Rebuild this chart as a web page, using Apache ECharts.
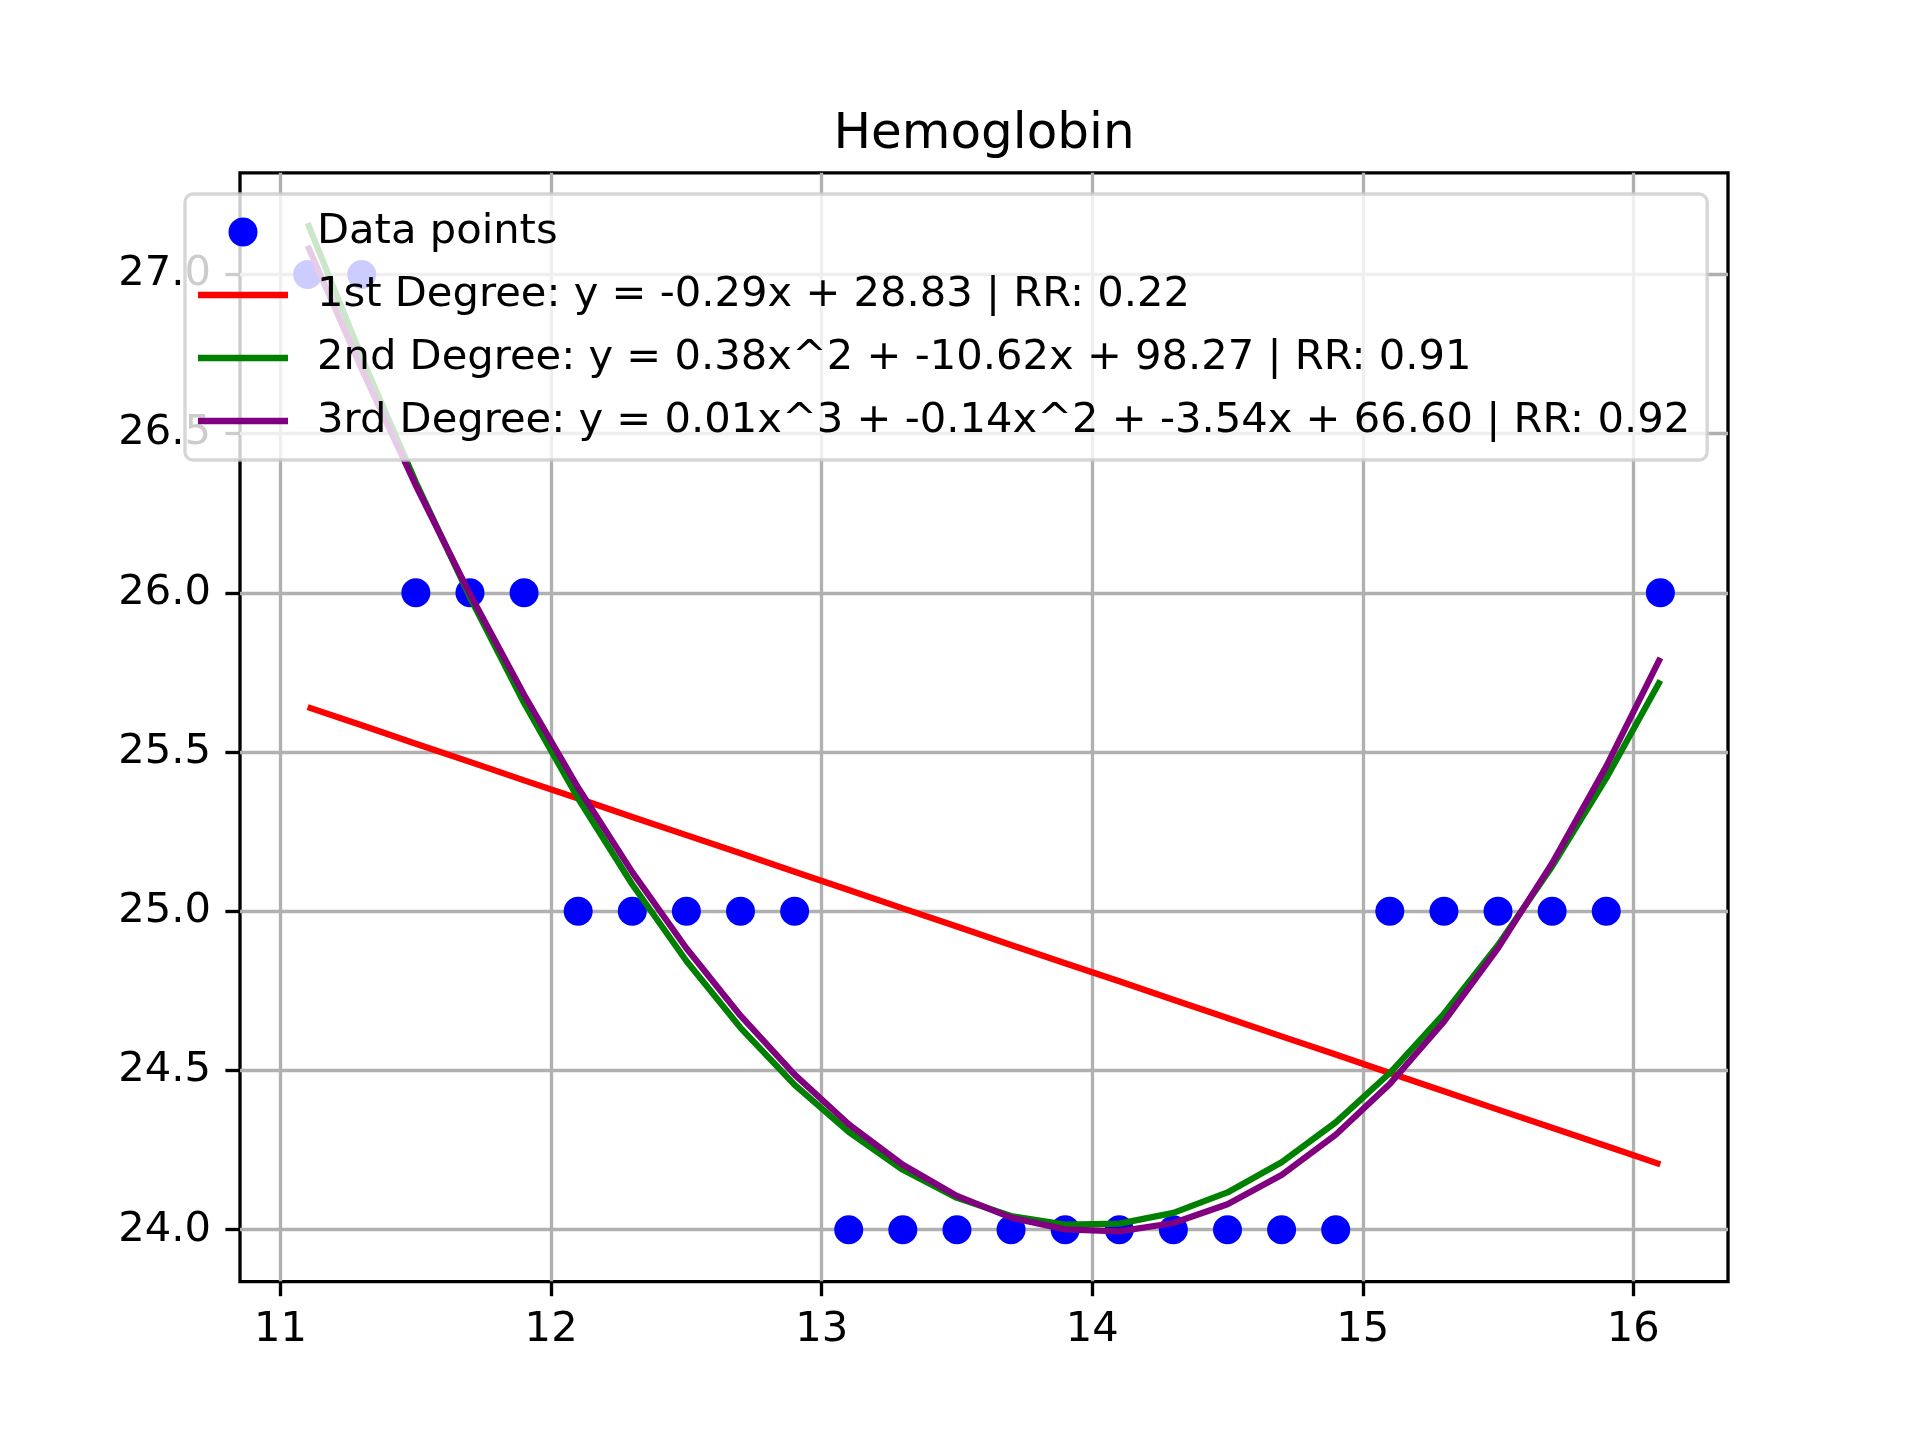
<!DOCTYPE html>
<html>
<head>
<meta charset="utf-8">
<script src="https://cdn.jsdelivr.net/npm/echarts@6/dist/echarts.min.js"></script>
<style>html,body{margin:0;padding:0;background:#fff;}#c{width:1920px;height:1440px;}</style>
</head>
<body>
<div id="c"></div>
<script>
const titleText = 'Hemoglobin';
const xValues = [11.1, 11.3, 11.5, 11.7, 11.9, 12.1, 12.3, 12.5, 12.7, 12.9, 13.1, 13.3, 13.5, 13.7, 13.9, 14.1, 14.3, 14.5, 14.7, 14.9, 15.1, 15.3, 15.5, 15.7, 15.9, 16.1];
const yPoints = [27, 27, 26, 26, 26, 25, 25, 25, 25, 25, 24, 24, 24, 24, 24, 24, 24, 24, 24, 24, 25, 25, 25, 25, 25, 26];
const fit1 = [25.641, 25.584, 25.526, 25.469, 25.411, 25.354, 25.296, 25.239, 25.182, 25.124, 25.067, 25.009, 24.952, 24.894, 24.837, 24.780, 24.722, 24.665, 24.607, 24.550, 24.492, 24.435, 24.377, 24.320, 24.263, 24.205];
const fit2 = [27.161, 26.739, 26.347, 25.986, 25.654, 25.354, 25.084, 24.844, 24.634, 24.455, 24.307, 24.188, 24.100, 24.043, 24.016, 24.019, 24.053, 24.117, 24.212, 24.337, 24.492, 24.678, 24.894, 25.141, 25.418, 25.725];
const fit3 = [27.090, 26.702, 26.337, 25.996, 25.680, 25.388, 25.123, 24.884, 24.672, 24.487, 24.331, 24.204, 24.106, 24.038, 24.001, 23.995, 24.021, 24.080, 24.172, 24.298, 24.458, 24.653, 24.884, 25.151, 25.455, 25.796];
const seriesNames = [
  'Data points',
  '1st Degree: y = -0.29x + 28.83 | RR: 0.22',
  '2nd Degree: y = 0.38x^2 + -10.62x + 98.27 | RR: 0.91',
  '3rd Degree: y = 0.01x^3 + -0.14x^2 + -3.54x + 66.60 | RR: 0.92'
];
const xTicks = [11, 12, 13, 14, 15, 16];
const yTicks = [24, 24.5, 25, 25.5, 26, 26.5, 27];

const FONT = 'DejaVu Sans';
const FS = 41.67;
const pair = (ys) => xValues.map((x, i) => [x, ys[i]]);
const LINE_ICON = 'path://M0,0H100V7H0Z';

const chart = echarts.init(document.getElementById('c'), null, {renderer: 'canvas'});
const lineSeries = (name, ys, color) => ({
  name: name, type: 'line', data: pair(ys), symbol: 'none', showSymbol: false, smooth: false,
  lineStyle: {color: color, width: 6.25}, itemStyle: {color: color},
  z: 3, animation: false, silent: true
});
chart.setOption({
  animation: false,
  backgroundColor: '#ffffff',
  graphic: [{
    type: 'text', x: 984, y: 135.5, silent: true,
    style: {text: titleText, fontFamily: FONT, fontSize: 50, fill: '#000', align: 'center', verticalAlign: 'middle'}
  }],
  grid: {left: 240, top: 172.8, width: 1488, height: 1108.8, show: true, borderColor: '#000', borderWidth: 3.33, backgroundColor: 'transparent', containLabel: false},
  legend: {
    orient: 'vertical', left: 185, top: 194,
    padding: [14, 17, 15, 13],
    itemWidth: 90, itemHeight: 29, itemGap: 15,
    symbolKeepAspect: true,
    backgroundColor: 'rgba(255,255,255,0.8)',
    borderColor: 'rgba(204,204,204,0.8)', borderWidth: 3.33, borderRadius: 8,
    textStyle: {fontFamily: FONT, fontSize: FS, color: '#000', lineHeight: 48, padding: [0, 0, 0, 24]},
    selectedMode: false,
    data: seriesNames.map((n, i) => i === 0 ? {name: n, icon: 'circle'} : {name: n, icon: LINE_ICON})
  },
  xAxis: {
    type: 'value', min: 10.85, max: 16.35,
    axisLine: {show: false},
    axisTick: {show: true, inside: false, length: 14.6, lineStyle: {color: '#000', width: 3.33}, customValues: xTicks},
    axisLabel: {show: true, margin: 28, fontFamily: FONT, fontSize: FS, color: '#000', customValues: xTicks, formatter: (v) => String(v)},
    splitLine: {show: true, lineStyle: {color: '#b0b0b0', width: 3.33}}
  },
  yAxis: {
    type: 'value', min: 23.837, max: 27.319,
    axisLine: {show: false},
    axisTick: {show: true, inside: false, length: 14.6, lineStyle: {color: '#000', width: 3.33}, customValues: yTicks},
    axisLabel: {show: true, margin: 29, fontFamily: FONT, fontSize: FS, color: '#000', customValues: yTicks, formatter: (v) => v.toFixed(1)},
    splitLine: {show: true, lineStyle: {color: '#b0b0b0', width: 3.33}}
  },
  series: [
    {name: seriesNames[0], type: 'scatter', data: pair(yPoints), symbol: 'circle', symbolSize: 29, itemStyle: {color: '#0000ff', opacity: 1}, z: 2, silent: true},
    lineSeries(seriesNames[1], fit1, '#ff0000'),
    lineSeries(seriesNames[2], fit2, '#008000'),
    lineSeries(seriesNames[3], fit3, '#800080')
  ]
});
</script>
</body>
</html>
